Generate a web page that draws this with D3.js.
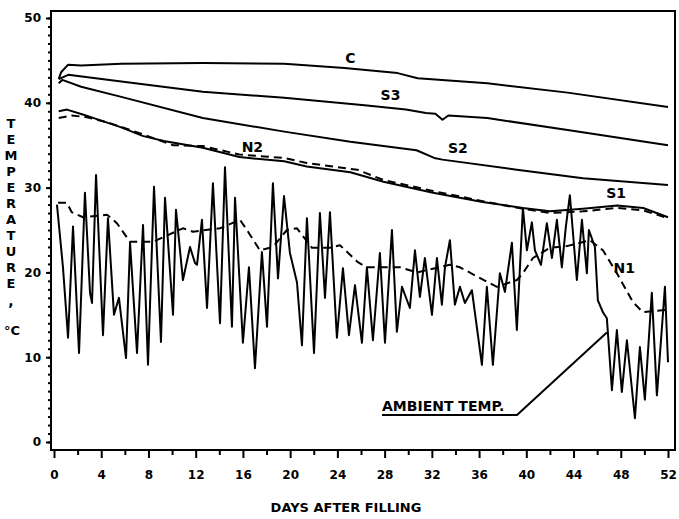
<!DOCTYPE html>
<html lang="en">
<head>
  <meta charset="UTF-8">
  <title>Temperature after filling</title>
  <style>
    body { margin: 0; background: #fff; }
    svg text { font-family: "DejaVu Sans", sans-serif; font-weight: bold; fill: #000; }
    .axis path { display: none; }
    .axis line { stroke: #000; stroke-width: 2px; }
    .axis text { font-size: 12px; }
    .curve { fill: none; stroke: #000; stroke-width: 2px; stroke-linejoin: round; }
    .dashed { stroke-dasharray: 8 5; }
  </style>
</head>
<body>
  <div id="chart"></div>

  <script src="https://d3js.org/d3.v7.min.js"></script>
  <script>
    // tick labels
    const xTicks = [0, 4, 8, 12, 16, 20, 24, 28, 32, 36, 40, 44, 48, 52];
    const yTicks = [0, 10, 20, 30, 40, 50];

    // [day, temperature °C]
    const seriesC = [[0.4,42.8],[0.6,43.6],[1.2,44.5],[2.3,44.4],[5.7,44.6],[12.6,44.7],[19.5,44.6],
      [24.6,44.1],[29.1,43.5],[30.8,42.9],[36.7,42.3],[43.5,41.2],[52,39.5]];
    const seriesS3 = [[0.4,42.8],[1.2,43.3],[5.7,42.5],[12.6,41.3],[19.5,40.6],[26.3,39.7],[29.8,39.2],
      [31.5,38.8],[32.3,38.7],[32.9,38.0],[33.4,38.5],[36.7,38.2],[43.5,36.8],[52,35.0]];
    const seriesS2 = [[0.4,42.3],[0.7,42.7],[2.3,41.9],[5.7,40.7],[12.6,38.2],[19.5,36.6],[25.1,35.4],
      [30.7,34.4],[32.2,33.5],[32.9,33.3],[39.2,32.1],[44.8,31.1],[52,30.3]];
    const seriesS1 = [[0.4,39.0],[1.1,39.2],[2.5,38.6],[4.0,37.9],[5.7,37.1],[7.5,36.1],[9.3,35.5],
      [12.6,34.7],[15.7,33.6],[19.5,33.1],[21.4,32.5],[25.1,31.8],[27.9,30.7],[32.1,29.4],[36.3,28.3],
      [39.7,27.6],[42.0,27.2],[44.8,27.5],[47.7,27.9],[49.9,27.6],[52,26.5]];
    const seriesN2 = [[0.4,38.2],[1.5,38.5],[2.8,38.3],[4.5,37.7],[7.5,36.3],[10.1,35.0],[12.6,34.9],
      [15.7,33.9],[19.5,33.5],[21.4,32.9],[25.7,32.1],[27.9,30.9],[32.1,29.6],[36.3,28.4],[39.7,27.5],
      [42.0,27.0],[44.8,27.2],[47.7,27.6],[49.9,27.3],[52,26.4]];
    const seriesN1 = [[0.34,28.2],[1.1,28.2],[1.5,27.1],[2.46,26.5],[4.49,26.8],[5.33,25.8],[6.44,23.6],
      [8.38,23.6],[10.92,25.2],[11.77,24.8],[14.06,25.2],[15.75,26.2],[16.34,25.0],[17.44,22.6],
      [18.54,23.0],[19.73,25.0],[20.58,25.2],[21.85,22.9],[23.37,22.9],[24.22,23.2],[25.74,21.2],
      [26.5,20.6],[29.3,20.6],[30.74,20.0],[33.53,20.9],[34.38,20.6],[36.66,18.9],[37.51,18.3],
      [39.2,19.1],[39.71,19.9],[40.56,21.7],[42.0,22.9],[43.44,23.1],[45.38,23.8],[46.49,22.6],
      [47.67,19.9],[49.03,16.5],[49.88,15.3],[52,15.6]];
    const ambient = [[0.25,28.0],[0.76,20.6],[1.19,12.3],[1.61,25.4],[2.12,10.5],[2.62,29.4],[3.05,17.6],
      [3.22,16.4],[3.56,31.5],[4.15,12.6],[4.57,26.4],[5.08,15.0],[5.5,17.0],[6.1,9.9],[6.44,23.5],
      [7.03,10.5],[7.54,25.6],[7.96,9.1],[8.47,30.1],[9.06,11.8],[9.4,28.8],[10.08,15.0],[10.33,27.4],
      [10.92,19.1],[11.52,23.0],[11.94,21.1],[12.11,20.9],[12.53,26.2],[12.96,15.8],[13.46,30.5],
      [14.06,14.0],[14.48,32.4],[15.07,13.6],[15.33,28.8],[16.0,11.7],[16.51,20.6],[17.02,8.7],
      [17.61,22.4],[18.04,13.6],[18.54,30.5],[18.97,19.3],[19.48,29.0],[19.98,22.3],[20.58,18.8],
      [21.0,11.4],[21.42,26.4],[22.02,10.5],[22.52,27.0],[22.95,17.0],[23.37,27.1],[23.96,12.3],
      [24.47,20.5],[24.98,12.6],[25.49,18.5],[26.08,11.7],[26.5,20.6],[27.01,12.0],[27.6,22.3],
      [28.03,11.7],[28.62,25.0],[29.04,13.0],[29.47,18.3],[30.14,15.8],[30.57,22.6],[30.99,17.1],
      [31.41,21.7],[32.01,15.0],[32.43,21.7],[32.85,16.2],[33.11,20.6],[33.53,23.8],[33.95,16.2],
      [34.38,18.3],[34.8,16.4],[35.39,17.9],[36.24,9.1],[36.66,18.3],[37.17,9.1],[37.76,19.9],
      [38.19,17.7],[38.78,23.5],[39.2,13.2],[39.71,27.6],[40.05,22.6],[40.47,25.9],[40.73,22.6],
      [41.24,20.9],[41.74,25.8],[42.17,21.7],[42.59,26.2],[43.01,20.6],[43.35,25.4],[43.69,29.1],
      [44.28,19.1],[44.71,26.2],[45.13,19.9],[45.3,25.0],[45.81,23.0],[46.06,16.7],[46.49,15.3],
      [46.82,14.6],[46.91,12.9],[47.25,6.1],[47.67,13.2],[48.09,5.9],[48.52,12.0],[49.2,2.8],
      [49.62,11.2],[50.04,5.0],[50.63,17.6],[51.06,5.5],[51.74,18.3],[52.0,9.4]];

    // curve labels [text, day, temp]
    const curveLabels = [["C",25.1,45.3],["S3",28.5,40.9],["S2",34.2,34.7],["N2",16.8,34.8],
      ["S1",47.6,29.4],["N1",48.3,20.5]];

    const width = 679, height = 519;
    const frame = { left: 51, top: 11, right: 675, bottom: 450 };

    const svg = d3.select("#chart").append("svg")
      .attr("width", width).attr("height", height);

    const x = d3.scaleLinear().domain([0, 52]).range([54, 668]);
    const y = d3.scaleLinear().domain([0, 50]).range([442, 18]);

    // frame
    svg.append("rect")
      .attr("x", frame.left).attr("y", frame.top)
      .attr("width", frame.right - frame.left).attr("height", frame.bottom - frame.top)
      .attr("fill", "none").attr("stroke", "#000").attr("stroke-width", 2);

    // x axis: major every 4 days, minor in between
    svg.append("g").attr("class", "axis")
      .attr("transform", `translate(0,${frame.bottom})`)
      .call(d3.axisBottom(x).tickValues(d3.range(2, 52, 4)).tickSize(5).tickFormat(""));
    svg.append("g").attr("class", "axis")
      .attr("transform", `translate(0,${frame.bottom})`)
      .call(d3.axisBottom(x).tickValues(xTicks).tickSize(8).tickPadding(12));

    // y axis: minor dots every degree
    svg.append("g").attr("class", "axis")
      .attr("transform", `translate(${frame.left},0)`)
      .call(d3.axisLeft(y).tickValues(d3.range(0, 51, 1)).tickSize(3).tickFormat(""));
    svg.append("g").attr("class", "axis")
      .attr("transform", `translate(${frame.left},0)`)
      .call(d3.axisLeft(y).tickValues(yTicks).tickSize(5).tickPadding(5));

    // axis titles
    svg.append("text")
      .attr("x", 346).attr("y", 512)
      .attr("text-anchor", "middle")
      .style("font-size", "13px")
      .text("DAYS AFTER FILLING");

    const yTitle = "TEMPERATURE".split("");
    svg.append("g").selectAll("text")
      .data(yTitle)
      .enter().append("text")
      .attr("x", 11).attr("y", (d, i) => 128 + i * 16)
      .attr("text-anchor", "middle")
      .style("font-size", "13px")
      .text(d => d);
    svg.append("text").attr("x", 11).attr("y", 306)
      .attr("text-anchor", "middle").style("font-size", "14px").text(",");
    svg.append("text").attr("x", 12).attr("y", 335)
      .attr("text-anchor", "middle").style("font-size", "13px").text("°C");

    // curves
    const line = d3.line().x(d => x(d[0])).y(d => y(d[1]));
    const curves = [
      [seriesC, false], [seriesS3, false], [seriesS2, false],
      [seriesS1, false], [seriesN2, true], [seriesN1, true], [ambient, false]
    ];
    svg.append("g").selectAll("path")
      .data(curves)
      .enter().append("path")
      .attr("class", d => d[1] ? "curve dashed" : "curve")
      .attr("d", d => line(d[0]));

    // curve labels
    svg.append("g").selectAll("text")
      .data(curveLabels)
      .enter().append("text")
      .attr("x", d => x(d[1])).attr("y", d => y(d[2]))
      .attr("dy", "0.35em")
      .attr("text-anchor", "middle")
      .style("font-size", "14px")
      .text(d => d[0]);

    // ambient leader
    const tip = [46.82, 12.9];
    svg.append("text")
      .attr("x", 382).attr("y", 411)
      .style("font-size", "14px")
      .text("AMBIENT TEMP.");
    svg.append("path")
      .attr("class", "curve")
      .attr("d", `M382,415 L517,415 L${x(tip[0])},${y(tip[1])}`);
  </script>
</body>
</html>
